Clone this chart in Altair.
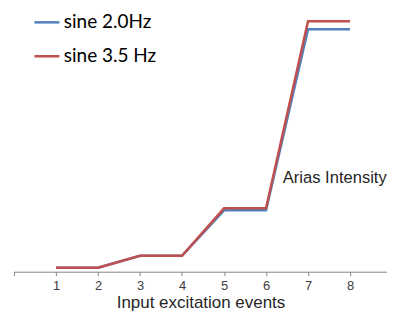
import altair as alt
import pandas as pd

events = [1, 2, 3, 4, 5, 6, 7, 8]
sine_20 = [0.04, 0.04, 0.16, 0.16, 0.62, 0.62, 2.45, 2.45]
sine_35 = [0.04, 0.04, 0.16, 0.16, 0.64, 0.64, 2.53, 2.53]
series_names = ["sine 2.0Hz", "sine 3.5 Hz"]
colors = ["#4F81BD", "#C0504D"]
tick_values = [0, 1, 2, 3, 4, 5, 6, 7, 8]

rows = []
for name, vals in zip(series_names, [sine_20, sine_35]):
    for e, v in zip(events, vals):
        rows.append({"event": e, "value": v, "series": name})
df = pd.DataFrame(rows)

x = alt.X(
    "event:Q",
    scale=alt.Scale(domain=[0, 8.88], nice=False, zero=False),
    axis=alt.Axis(
        values=tick_values,
        labelExpr="(datum.value >= 1 && datum.value <= 8) ? datum.label : ''",
        grid=False,
        domainColor="#868686",
        tickColor="#868686",
        tickSize=4,
        labelPadding=4,
        labelFont="Liberation Sans",
        labelFontSize=13,
        labelColor="#404040",
        title="Input excitation events",
        titleFont="Liberation Sans",
        titleFontSize=17,
        titleFontWeight="normal",
        titleColor="#262626",
        titlePadding=2,
    ),
)
y = alt.Y(
    "value:Q",
    scale=alt.Scale(domain=[0, 2.61], nice=False, zero=False),
    axis=None,
)

lines = alt.Chart(df).mark_line(strokeWidth=2.5).encode(
    x=x,
    y=y,
    color=alt.Color(
        "series:N",
        scale=alt.Scale(domain=series_names, range=colors),
        legend=alt.Legend(
            title=None,
            orient="none",
            legendX=19,
            legendY=-5,
            padding=0,
            symbolType="stroke",
            symbolSize=625,
            symbolStrokeWidth=2.5,
            labelFont="Lato",
            labelFontSize=19,
            labelColor="#000000",
            labelOffset=3,
            rowPadding=10,
            labelLimit=300,
        ),
    ),
    order=alt.Order("event:Q"),
)

note = pd.DataFrame({"event": [6.4], "value": [0.90], "label": ["Arias Intensity"]})
text = alt.Chart(note).mark_text(
    align="left", baseline="alphabetic", font="Liberation Sans", fontSize=16.6, color="#262626"
).encode(x=alt.X("event:Q"), y=alt.Y("value:Q"), text="label:N")

chart = (
    alt.layer(lines, text)
    .properties(width=374, height=259, padding={"left": 5, "top": 0, "right": 0, "bottom": 0})
    .configure_view(stroke=None)
)

chart.save("out.html", embed_options={"renderer": "svg", "actions": False})
